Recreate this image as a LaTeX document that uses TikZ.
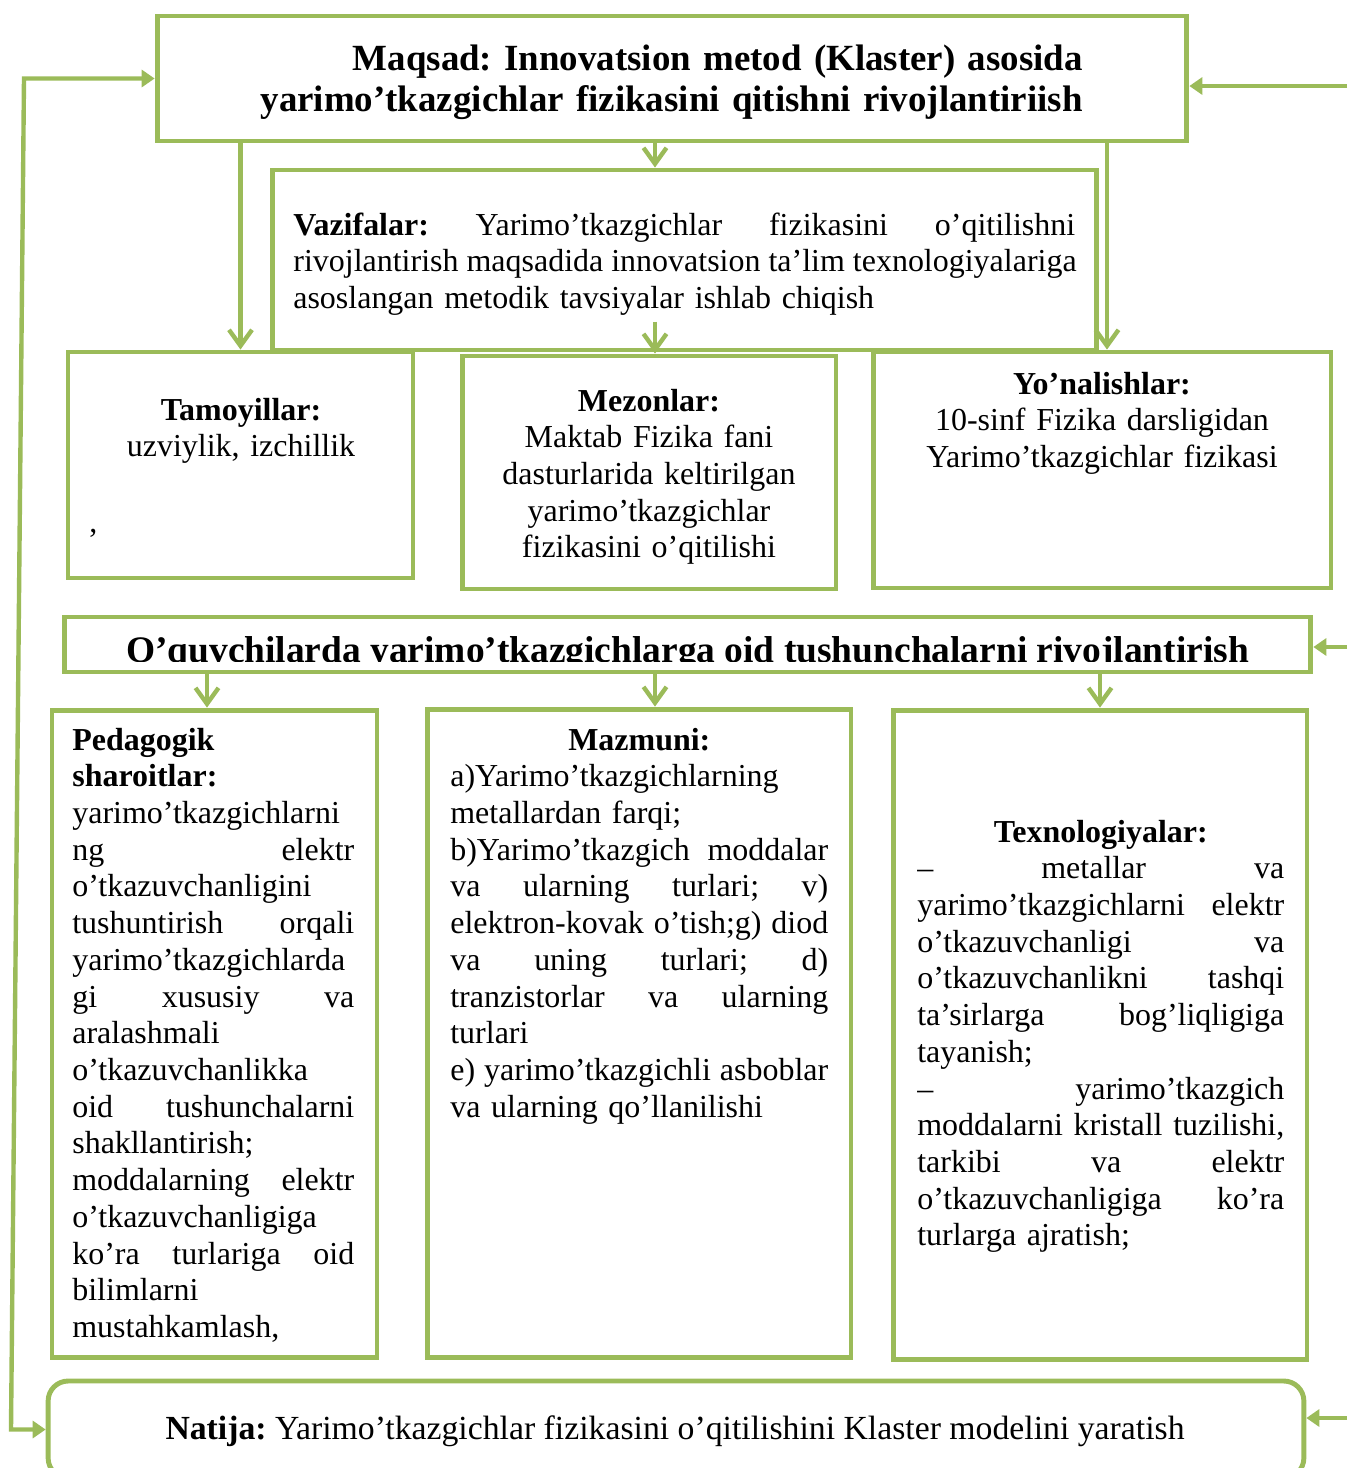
\documentclass[tikz,border=0pt]{standalone}
\usepackage{fontspec}
\setmainfont{Liberation Serif}
\usetikzlibrary{arrows.meta, calc, positioning}
\definecolor{grn}{HTML}{9BBB59}
\frenchspacing
\newlength{\jw}
\newcommand{\jl}[1]{{\spaceskip=.25em plus 1fil\makebox[\jw][s]{#1}}}
\newcommand{\cl}[1]{\makebox[\jw][c]{#1}}

\begin{document}
\begin{tikzpicture}
[
	x=0.02cm, y=-0.02cm,
	bx/.style={rectangle,draw=grn,line width=2.8pt},
	vtip/.tip={Straight Barb[length=3.2mm,width=4.6mm]},
	tri/.tip={Triangle[length=2.6mm,width=3.4mm]},
	ar/.style={draw=grn,line width=2.5pt,-{vtip}},
	fa/.style={draw=grn,line width=2.5pt,-{tri}},
	tx/.style={inner sep=0,align=left,font=\fontsize{18.2}{20.9}\selectfont},
	hd/.style={inner sep=0,font=\bfseries\fontsize{21}{23.8}\selectfont}
]

\useasboundingbox (0,0) rectangle (1347,1468);

\node[bx,minimum width=20.6cm,minimum height=2.5cm] (maq) at (672,78.5) {};
\node[bx,minimum width=16.5cm,minimum height=3.6cm] (vaz) at (684.5,260) {};
\node[bx,minimum width=6.9cm,minimum height=4.52cm] (tam) at (240.5,465) {};
\node[bx,minimum width=7.48cm,minimum height=4.66cm] (mez) at (649,472.5) {};
\node[bx,minimum width=9.16cm,minimum height=4.72cm] (yon) at (1102,470) {};
\node[bx,minimum width=24.94cm,minimum height=1.1cm] (bar) at (687.5,644.5) {};
\node[bx,minimum width=6.5cm,minimum height=12.96cm] (ped) at (214.5,1034) {};
\node[bx,minimum width=8.48cm,minimum height=12.98cm] (maz) at (639,1033.5) {};
\node[bx,minimum width=8.28cm,minimum height=13cm] (tex) at (1100,1035) {};
\node[bx,rounded corners=0.4cm,minimum width=25.12cm,minimum height=1.94cm] (nat) at (676,1429.5) {};

\coordinate (mid) at (655,0);
\coordinate (yr) at (1107,0);
\coordinate (pl) at (207,0);
\coordinate (lt) at (24,0);
\coordinate (lb) at (11,0);
\coordinate (r1) at (1347,86);
\coordinate (r2) at (1347,647);
\coordinate (r3) at (1347,1418);

\draw[ar] (maq.south -| mid) -- (vaz.north -| mid);
\draw[ar] (maq.south -| tam.north) -- (tam.north);
\draw[ar] (maq.south -| yr) -- (yon.north -| yr);
\draw[ar] ($(mez.north -| mid)+(0,-32)$) -- (mez.north -| mid);

\draw[ar] (bar.south -| pl) -- (ped.north -| pl);
\draw[ar] (bar.south -| mid) -- (maz.north -| mid);
\draw[ar] (bar.south -| tex.north) -- (tex.north);

\draw[fa] (r1) -- (r1 -| maq.east);
\draw[fa] (r2) -- (r2 -| bar.east);
\draw[fa] (r3) -- (r3 -| nat.east);
\draw[fa,{tri}-{tri}] (maq.west) -- (lt |- maq.west) -- (lb |- nat.west) -- (nat.west);

\node[hd,text width=17.2cm,align=right,anchor=base east] (tmaq) at (1083,70) {Maqsad: Innovatsion metod (Klaster) asosida\\
yarimo’tkazgichlar fizikasini qitishni rivojlantiriish};

\node[tx,text width=15.64cm,anchor=base west] (tvaz) at (293,235) {\setlength{\jw}{15.64cm}%
\jl{\textbf{Vazifalar:} Yarimo’tkazgichlar fizikasini o’qitilishni}\\
\jl{rivojlantirish maqsadida innovatsion ta’lim texnologiyalariga}\\
asoslangan metodik tavsiyalar ishlab chiqish};

\node[tx,text width=6.4cm,align=center,anchor=base] (ttam) at (241,420) {\textbf{Tamoyillar:}\\ uzviylik, izchillik};
\node[tx,anchor=base west] (kom) at (89,532) {,};

\node[tx,text width=7cm,align=center,anchor=base] (tmez) at (649,411) {\textbf{Mezonlar:}\\
Maktab Fizika fani\\
dasturlarida keltirilgan\\
yarimo’tkazgichlar\\
fizikasini o’qitilishi};

\node[tx,text width=8.8cm,align=center,anchor=base] (tyon) at (1102,394) {\textbf{Yo’nalishlar:}\\
10-sinf Fizika darsligidan\\
Yarimo’tkazgichlar fizikasi};

\begin{scope}
\clip (bar.north west) rectangle ($(bar.south east)+(0,-12.5)$);
\node[hd,anchor=base,font=\bfseries\fontsize{21.3}{24}\selectfont] (toq) at ($(bar.center)+(0,18)$) {O’quvchilarda yarimo’tkazgichlarga oid tushunchalarni rivojlantirish};
\end{scope}

\node[tx,text width=5.64cm,anchor=base west] (tped) at (72,750) {\setlength{\jw}{5.64cm}%
\textbf{Pedagogik}\\
\textbf{sharoitlar:}\\
yarimo’tkazgichlarni\\
\jl{ng elektr}\\
o’tkazuvchanligini\\
\jl{tushuntirish orqali}\\
yarimo’tkazgichlarda\\
\jl{gi xususiy va}\\
aralashmali\\
o’tkazuvchanlikka\\
\jl{oid tushunchalarni}\\
shakllantirish;\\
\jl{moddalarning elektr}\\
o’tkazuvchanligiga\\
\jl{ko’ra turlariga oid}\\
bilimlarni\\
mustahkamlash,};

\node[tx,text width=7.56cm,anchor=base west] (tmaz) at (450,750) {\setlength{\jw}{7.56cm}%
\cl{\textbf{Mazmuni:}}\\
a)Yarimo’tkazgichlarning\\
metallardan farqi;\\
\jl{b)Yarimo’tkazgich moddalar}\\
\jl{va ularning turlari; v)}\\
\jl{elektron-kovak o’tish;g) diod}\\
\jl{va uning turlari; d)}\\
\jl{tranzistorlar va ularning}\\
turlari\\
\jl{e) yarimo’tkazgichli asboblar}\\
va ularning qo’llanilishi};

\node[tx,text width=7.34cm,anchor=base west] (ttex) at (917,842) {\setlength{\jw}{7.34cm}%
\cl{\textbf{Texnologiyalar:}}\\
\jl{– metallar va}\\
\jl{yarimo’tkazgichlarni elektr}\\
\jl{o’tkazuvchanligi va}\\
\jl{o’tkazuvchanlikni tashqi}\\
\jl{ta’sirlarga bog’liqligiga}\\
tayanish;\\
\jl{– yarimo’tkazgich}\\
\jl{moddalarni kristall tuzilishi,}\\
\jl{tarkibi va elektr}\\
\jl{o’tkazuvchanligiga ko’ra}\\
turlarga ajratish;};

\node[tx,anchor=base,font=\fontsize{19.2}{22}\selectfont] (tnat) at (675,1439) {\textbf{Natija:} Yarimo’tkazgichlar fizikasini o’qitilishini Klaster modelini yaratish};

\end{tikzpicture}
\end{document}
